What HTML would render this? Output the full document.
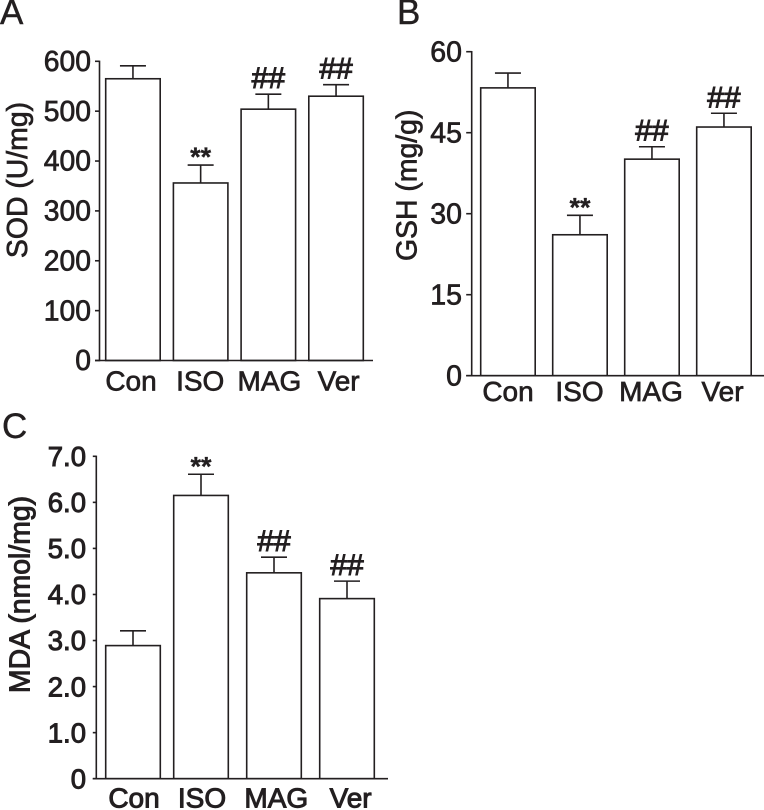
<!DOCTYPE html>
<html>
<head>
<meta charset="utf-8">
<style>
html,body{margin:0;padding:0;background:#fff;}
svg{display:block;}
text{font-family:"Liberation Sans",Arial,sans-serif;fill:#231f20;}
</style>
</head>
<body>
<svg id="chart" width="764" height="810" viewBox="0 0 764 810" xmlns="http://www.w3.org/2000/svg"></svg>
<script>
const categories = ['Con', 'ISO', 'MAG', 'Ver'];

const sodValues = [565, 356, 504, 530];
const sodErrors = [26, 36, 30, 23];
const sodMarks = ['', '**', '##', '##'];
const sodTicks = ['0', '100', '200', '300', '400', '500', '600'];

const gshValues = [53.3, 26.1, 40.1, 46.05];
const gshErrors = [2.75, 3.6, 2.3, 2.55];
const gshMarks = ['', '**', '##', '##'];
const gshTicks = ['0', '15', '30', '45', '60'];

const mdaValues = [2.89, 6.15, 4.47, 3.91];
const mdaErrors = [0.32, 0.46, 0.34, 0.38];
const mdaMarks = ['', '**', '##', '##'];
const mdaTicks = ['0', '1.0', '2.0', '3.0', '4.0', '5.0', '6.0', '7.0'];

const svg = document.getElementById('chart');
const NS = 'http://www.w3.org/2000/svg';
const INK = '#231f20';

function line(parent, x1, y1, x2, y2) {
  const l = document.createElementNS(NS, 'line');
  l.setAttribute('x1', x1);
  l.setAttribute('y1', y1);
  l.setAttribute('x2', x2);
  l.setAttribute('y2', y2);
  l.setAttribute('stroke', INK);
  l.setAttribute('stroke-width', '1.6');
  parent.appendChild(l);
  return l;
}

function label(parent, str, x, y, size, anchor, extra) {
  const t = document.createElementNS(NS, 'text');
  t.setAttribute('x', x);
  t.setAttribute('y', y);
  t.setAttribute('font-size', size);
  t.setAttribute('text-anchor', anchor);
  if (extra && extra.weight) t.setAttribute('font-weight', extra.weight);
  if (extra && extra.stroke) {
    t.setAttribute('stroke', INK);
    t.setAttribute('stroke-width', extra.stroke);
  }
  if (extra && extra.rotate) t.setAttribute('transform', 'rotate(-90 ' + x + ' ' + y + ')');
  t.textContent = str;
  parent.appendChild(t);
  return t;
}

function drawPanel(p) {
  const g = document.createElementNS(NS, 'g');
  
  
  svg.appendChild(g);

  const y = v => p.y0 - (v / p.max) * (p.y0 - p.yTop);

  const letter = label(g, p.letter, p.letterX, p.letterY, 35, 'start', {stroke: '0.4'});
  
  

  const title = label(g, p.title, p.titleX, p.titleY, 28.4, 'middle', {rotate: true, stroke: p.textStroke});
  
  

  p.values.forEach((v, i) => {
    const left = p.barX(i);
    const right = left + p.barW;
    const mid = (left + right) / 2;
    const bar = document.createElementNS(NS, 'rect');
    bar.setAttribute('x', left);
    bar.setAttribute('y', y(v));
    bar.setAttribute('width', p.barW);
    bar.setAttribute('height', p.y0 - y(v));
    bar.setAttribute('fill', '#fff');
    bar.setAttribute('stroke', INK);
    bar.setAttribute('stroke-width', '1.6');
    
    
    g.appendChild(bar);

    const top = y(v + p.errors[i]);
    const stem = line(g, mid, y(v), mid, top);
    
    
    const cap = line(g, mid - 13, top, mid + 13, top);
    
    

    const mark = p.marks[i];
    if (mark === '**') {
      const star = label(g, mark, mid, top + 1, 27, 'middle', {weight: 'bold', stroke: '0.3'});
      
      
    } else if (mark === '##') {
      const hash = label(g, mark, mid, top - 6, 30, 'middle', {stroke: '1'});
      
      
    }

    const cat = label(g, categories[i], p.labelX(i), p.labelY, 28, 'middle', {stroke: p.textStroke});
    
    
  });

  const yAxis = line(g, p.axisX, p.yTop - 0.7, p.axisX, p.y0 + 0.7);
  
  
  const xAxis = line(g, p.axisX - p.tick, p.y0, p.xEnd, p.y0);
  
  

  p.ticks.forEach(t => {
    const ty = y(parseFloat(t));
    const mark = line(g, p.axisX - p.tick, ty, p.axisX, ty);
    
    
    const tl = label(g, t, p.tickLabelX, ty + 9.7, p.tickSize, 'end', {stroke: p.textStroke});
    
    
  });
}

drawPanel({
  name: 'panel-a-sod', letter: 'A', letterX: 0, letterY: 24,
  title: 'SOD (U/mg)', titleX: 27, titleY: 180,
  values: sodValues, errors: sodErrors, marks: sodMarks, ticks: sodTicks, max: 600,
  y0: 360.5, yTop: 61.3, axisX: 99.5, xEnd: 373, tick: 4.5,
  barX: i => 105.7 + 67.7 * i, barW: 54.5,
  labelX: i => 131 + 69.2 * i, labelY: 390.7,
  tickLabelX: 91, tickSize: 28.3, textStroke: '0.7'
});

drawPanel({
  name: 'panel-b-gsh', letter: 'B', letterX: 397, letterY: 24,
  title: 'GSH (mg/g)', titleX: 416.7, titleY: 185.3,
  values: gshValues, errors: gshErrors, marks: gshMarks, ticks: gshTicks, max: 60,
  y0: 375.7, yTop: 51.7, axisX: 471.7, xEnd: 764, tick: 5.5,
  barX: i => 480.7 + 72 * i, barW: 54.5,
  labelX: i => 508 + 71.5 * i, labelY: 401,
  tickLabelX: 462, tickSize: 28.5, textStroke: '0.7'
});

drawPanel({
  name: 'panel-c-mda', letter: 'C', letterX: 2, letterY: 438,
  title: 'MDA (nmol/mg)', titleX: 29.3, titleY: 594.5,
  values: mdaValues, errors: mdaErrors, marks: mdaMarks, ticks: mdaTicks, max: 7,
  y0: 778.7, yTop: 456.3, axisX: 96.3, xEnd: 388, tick: 3.5,
  barX: i => i === 0 ? 105.7 : 173.7 + 73 * (i - 1), barW: 54.6,
  labelX: i => i === 0 ? 134 : 202 + 74.3 * (i - 1), labelY: 807.7,
  tickLabelX: 86, tickSize: 27.5, textStroke: '1'
});
</script>
</body>
</html>
